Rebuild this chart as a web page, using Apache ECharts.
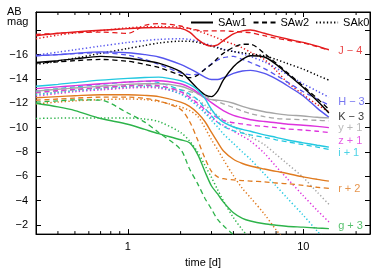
<!DOCTYPE html>
<html><head><meta charset="utf-8">
<script src="https://cdn.jsdelivr.net/npm/echarts@6/dist/echarts.min.js"></script>
<style>html,body{margin:0;padding:0;background:#fff}#c{width:390px;height:273px}</style>
</head><body><div id="c"></div>
<script>
// time grid [d]
const times = [0.3,0.4,0.5,0.7,1,1.25,1.5,2,2.25,2.5,2.75,3,3.25,3.5,4,4.5,5,6,7,8,10,12,14];

// J - 4
const J_w1 = [-17.55,-17.75,-17.87,-18.0,-18.13,-18.2,-18.22,-18.15,-17.85,-17.25,-16.85,-16.7,-16.8,-17.15,-17.7,-17.95,-18.02,-17.75,-17.5,-17.3,-17.0,-16.7,-16.4];
const J_w2 = [-17.65,-17.75,-17.8,-17.85,-17.75,-18.4,-18.55,-18.35,-18.15,-18.0,-17.95,-17.95,-17.95,-17.95,-17.9,-17.85,-17.8,-17.55,-17.35,-17.2,-16.95,-16.65,-16.35];
const J_k0 = [-17.3,-17.6,-17.78,-17.97,-18.2,-18.28,-18.3,-18.25,-18.12,-17.95,-17.75,-17.55,-17.35,-17.15,-16.85,-16.55,-16.2,-15.6,-14.7,-13.8,-12.7,-11.9,-11.3];
// H - 3
const H_w1 = [-15.92,-16.0,-16.1,-16.22,-16.15,-16.0,-15.8,-15.2,-14.85,-14.5,-14.15,-13.95,-13.95,-14.1,-14.45,-14.65,-14.7,-14.45,-14.0,-13.5,-12.6,-11.6,-10.85];
const H_w2 = [-15.9,-16.0,-16.08,-16.15,-15.95,-15.6,-15.2,-14.5,-14.35,-14.4,-14.8,-15.25,-15.55,-15.75,-15.85,-15.6,-15.35,-14.85,-14.3,-13.8,-12.95,-12.35,-11.85];
const H_k0 = [-15.95,-16.2,-16.4,-16.7,-17.0,-17.15,-17.25,-17.3,-17.25,-17.1,-16.9,-16.75,-16.6,-16.45,-16.25,-16.05,-15.85,-15.4,-14.9,-14.4,-13.6,-13.0,-12.5];
// K - 3
const K_w1 = [-15.35,-15.5,-15.65,-15.85,-15.7,-15.5,-15.3,-14.6,-13.9,-13.2,-12.7,-12.55,-13.0,-13.9,-15.0,-15.6,-15.9,-15.8,-15.2,-14.5,-13.3,-12.2,-11.2];
const K_w2 = [-15.3,-15.4,-15.5,-15.6,-15.45,-15.2,-14.95,-14.3,-14.1,-14.3,-14.8,-15.2,-15.7,-16.1,-16.6,-16.85,-16.85,-16.1,-15.3,-14.6,-13.4,-12.4,-11.5];
const K_k0 = [-15.2,-15.45,-15.7,-16.1,-16.5,-16.75,-16.95,-17.1,-17.1,-17.0,-16.85,-16.7,-16.55,-16.4,-16.25,-16.15,-16.05,-15.9,-15.6,-15.3,-14.8,-14.3,-13.9];
// y + 1
const y_w1 = [-13.0,-13.15,-13.25,-13.4,-13.55,-13.6,-13.6,-13.4,-13.15,-12.8,-12.45,-12.3,-12.25,-12.2,-12.0,-11.75,-11.55,-11.3,-11.15,-11.05,-10.95,-10.85,-10.8];
const y_w2 = [-12.85,-13.0,-13.1,-13.25,-13.4,-13.45,-13.4,-13.1,-12.95,-12.8,-12.6,-12.35,-12.15,-11.95,-11.65,-11.35,-11.15,-10.9,-10.75,-10.7,-10.65,-10.6,-10.55];
const y_k0 = [-12.75,-12.9,-13.0,-13.15,-13.3,-13.35,-13.3,-12.95,-12.65,-12.3,-11.85,-11.4,-11.0,-10.65,-10.1,-9.6,-9.25,-8.6,-7.8,-7.1,-5.9,-4.7,-3.7];
// z + 1
const z_w1 = [-13.2,-13.35,-13.45,-13.6,-13.75,-13.82,-13.85,-13.6,-13.3,-12.9,-12.45,-12.05,-11.7,-11.4,-11.0,-10.8,-10.65,-10.5,-10.4,-10.3,-10.2,-10.1,-10.0];
const z_w2 = [-12.9,-13.05,-13.15,-13.3,-13.45,-13.5,-13.45,-12.95,-12.5,-12.0,-11.5,-11.1,-10.8,-10.6,-10.4,-10.3,-10.2,-10.1,-10.0,-9.9,-9.8,-9.7,-9.6];
const z_k0 = [-12.6,-12.8,-12.95,-13.1,-13.25,-13.3,-13.25,-12.8,-12.4,-11.9,-11.3,-10.8,-10.45,-10.2,-9.7,-9.3,-8.9,-7.9,-6.8,-5.9,-4.4,-3.2,-2.25];
// i + 1
const i_w1 = [-13.4,-13.55,-13.7,-13.9,-14.05,-14.12,-14.15,-13.85,-13.55,-13.1,-12.4,-11.5,-10.85,-10.45,-10.05,-9.85,-9.7,-9.4,-9.2,-9.0,-8.75,-8.55,-8.4];
const i_w2 = [-13.0,-13.2,-13.35,-13.55,-13.75,-13.8,-13.7,-13.1,-12.75,-12.3,-11.6,-10.95,-10.45,-10.1,-9.75,-9.55,-9.4,-9.2,-9.0,-8.85,-8.6,-8.4,-8.2];
const i_k0 = [-12.7,-12.9,-13.05,-13.2,-13.35,-13.4,-13.35,-12.75,-12.3,-11.75,-11.2,-10.6,-10.05,-9.5,-8.7,-8.0,-7.4,-6.2,-5.2,-4.3,-2.8,-1.5,-0.4];
// r + 2
const r_w1 = [-12.45,-12.55,-12.62,-12.7,-12.7,-12.65,-12.55,-12.1,-11.75,-11.2,-10.5,-9.6,-8.8,-8.1,-7.4,-7.05,-6.85,-6.6,-6.4,-6.25,-5.95,-5.75,-5.6];
const r_w2 = [-12.25,-12.35,-12.42,-12.5,-12.5,-12.4,-12.2,-11.5,-10.5,-9.0,-7.5,-6.4,-5.95,-5.8,-5.7,-5.65,-5.6,-5.55,-5.45,-5.4,-5.25,-5.1,-5.0];
const r_k0 = [-11.95,-12.1,-12.2,-12.3,-12.35,-12.3,-12.15,-11.7,-11.4,-10.95,-10.0,-9.0,-8.2,-7.4,-6.05,-5.0,-4.25,-2.9,-1.6,-0.6,null,null,null];
// g + 3
const g_w1 = [-12.0,-11.7,-11.4,-10.75,-10.28,-9.85,-9.5,-9.0,-8.75,-7.8,-6.4,-5.2,-4.55,-3.9,-3.0,-2.55,-2.33,-2.1,-1.98,-1.9,-1.82,-1.75,-1.7];
const g_w2 = [-12.1,-12.2,-12.28,-12.25,-11.2,-10.45,-9.6,-8.2,-6.6,-5.4,-4.2,-3.3,-2.45,-1.95,-1.2,-0.6,null,null,null,null,null,null,null];
const g_k0 = [-10.75,-10.78,-10.8,-10.8,-10.8,-10.7,-10.5,-9.6,-8.9,-8.0,-6.9,-5.9,-4.9,-4.0,-2.6,-1.6,-0.8,null,null,null,null,null,null];

// band labels at the right
const labelTexts = ['J \u2212 4','H \u2212 3','K \u2212 3','y + 1','z + 1','i + 1','r + 2','g + 3'];
const labelMags  = [-16.3,-12.07,-10.88,-10.0,-8.9,-7.95,-4.95,-1.95];
const labelTime = 15.8;

const minorTicks = [0.4,0.5,0.6,0.7,0.8,0.9,2,3,4,5,6,7,8,9,20];
const modelNames = ['SAw1','SAw2','SAk0'];

const X_MIN = 0.3, X_MAX = 24, Y_MIN = -19.5, Y_MAX = -1.25;

const bands = [
  {k:'J', c:'#e41a1c', d:[J_w1,J_w2,J_k0]},
  {k:'H', c:'#5555ee', d:[H_w1,H_w2,H_k0]},
  {k:'K', c:'#000000', d:[K_w1,K_w2,K_k0]},
  {k:'y', c:'#a6a6a6', d:[y_w1,y_w2,y_k0]},
  {k:'z', c:'#dd33dd', d:[z_w1,z_w2,z_k0]},
  {k:'i', c:'#22c8e0', d:[i_w1,i_w2,i_k0]},
  {k:'r', c:'#e07b20', d:[r_w1,r_w2,r_k0]},
  {k:'g', c:'#2db34a', d:[g_w1,g_w2,g_k0]}
];
const labelColors = bands.map(b => b.c);
const dashTypes = ['solid',[5,3.5],[1.3,2.3]];
const widths = [1.4,1.3,1.5];

const FONT = 'Liberation Sans, Arial, sans-serif';
const series = [];
bands.forEach(b => {
  b.d.forEach((arr, j) => {
    series.push({
      type:'line',
      name: b.k === 'K' ? modelNames[j] : b.k + ' ' + modelNames[j],
      data: times.map((t, i) => [t, arr[i]]),
      showSymbol:false, symbol:'none', smooth:0.3, connectNulls:false,
      lineStyle:{color:b.c, width:widths[j], type:dashTypes[j]},
      itemStyle:{color:b.c},
      z: 3 - j
    });
  });
});

series.push({
  type:'scatter', name:'labels', symbolSize:0, silent:true,
  data: labelMags.map((m, i) => ({value:[labelTime, m], label:{formatter:labelTexts[i], color:labelColors[i]}})),
  label:{show:true, position:'right', distance:0, fontSize:11, fontFamily:FONT}
});

series.push({
  type:'custom', name:'minor', silent:true, z:10,
  data: minorTicks.map(v => [v, Y_MAX]),
  renderItem:(p, api) => {
    const v = api.value(0);
    const b = api.coord([v, Y_MAX]);
    const t = api.coord([v, Y_MIN]);
    return {type:'group', children:[
      {type:'line', shape:{x1:b[0],y1:b[1],x2:b[0],y2:b[1]-3}, style:{stroke:'#000',lineWidth:1}},
      {type:'line', shape:{x1:t[0],y1:t[1],x2:t[0],y2:t[1]+3}, style:{stroke:'#000',lineWidth:1}}
    ]};
  }
});

const isDecade = v => Math.abs(Math.log10(v) - Math.round(Math.log10(v))) < 1e-6;
const xCommon = {type:'log', logBase:10, min:X_MIN, max:X_MAX,
  axisLine:{show:true, lineStyle:{color:'#000', width:1}},
  axisTick:{show:true, inside:true, length:5, lineStyle:{color:'#000'}},
  splitLine:{show:false}, minorTick:{show:false}, minorSplitLine:{show:false}};
const yCommon = {type:'value', inverse:true, min:Y_MIN, max:Y_MAX, minInterval:2, maxInterval:2, splitNumber:9,
  axisLine:{show:true, lineStyle:{color:'#000', width:1}},
  axisTick:{show:true, inside:true, length:5, lineStyle:{color:'#000'}},
  splitLine:{show:false}};

const chart = echarts.init(document.getElementById('c'), null, {renderer:'canvas'});
chart.setOption({
  animation:false,
  backgroundColor:'#fff',
  textStyle:{fontFamily:FONT},
  grid:{left:36, right:20, top:12, bottom:30, show:true, borderColor:'#000', borderWidth:1},
  legend:{data:modelNames, left:190, top:17, padding:0, itemWidth:22, itemHeight:10, itemGap:6,
    itemStyle:{opacity:0, borderWidth:0},
    textStyle:{fontSize:11, color:'#000', fontFamily:FONT}, selectedMode:false},
  graphic:[{type:'text', left:7, top:6, style:{text:'AB\nmag', fontSize:11, lineHeight:10.5, fill:'#000', fontFamily:FONT}}],
  xAxis:[
    Object.assign({}, xCommon, {position:'bottom', name:'time [d]', nameLocation:'middle', nameGap:20,
      nameTextStyle:{fontSize:11, color:'#000', fontFamily:FONT},
      axisLabel:{show:true, fontSize:11, color:'#000', margin:7, fontFamily:FONT,
        formatter:v => isDecade(v) ? String(Math.round(v)) : ''}}),
    Object.assign({}, xCommon, {position:'top', axisLabel:{show:false}})
  ],
  yAxis:[
    Object.assign({}, yCommon, {position:'left', axisLabel:{show:true, fontSize:11, color:'#000', margin:8, fontFamily:FONT,
      formatter:v => (Math.abs(v - Math.round(v)) < 1e-6 && Math.round(v) % 2 === 0 && v > -17 && v < -1.5) ? '\u2212' + Math.abs(Math.round(v)) : ''}}),
    Object.assign({}, yCommon, {position:'right', axisLabel:{show:false}})
  ],
  series: series
});
</script>
</body></html>
